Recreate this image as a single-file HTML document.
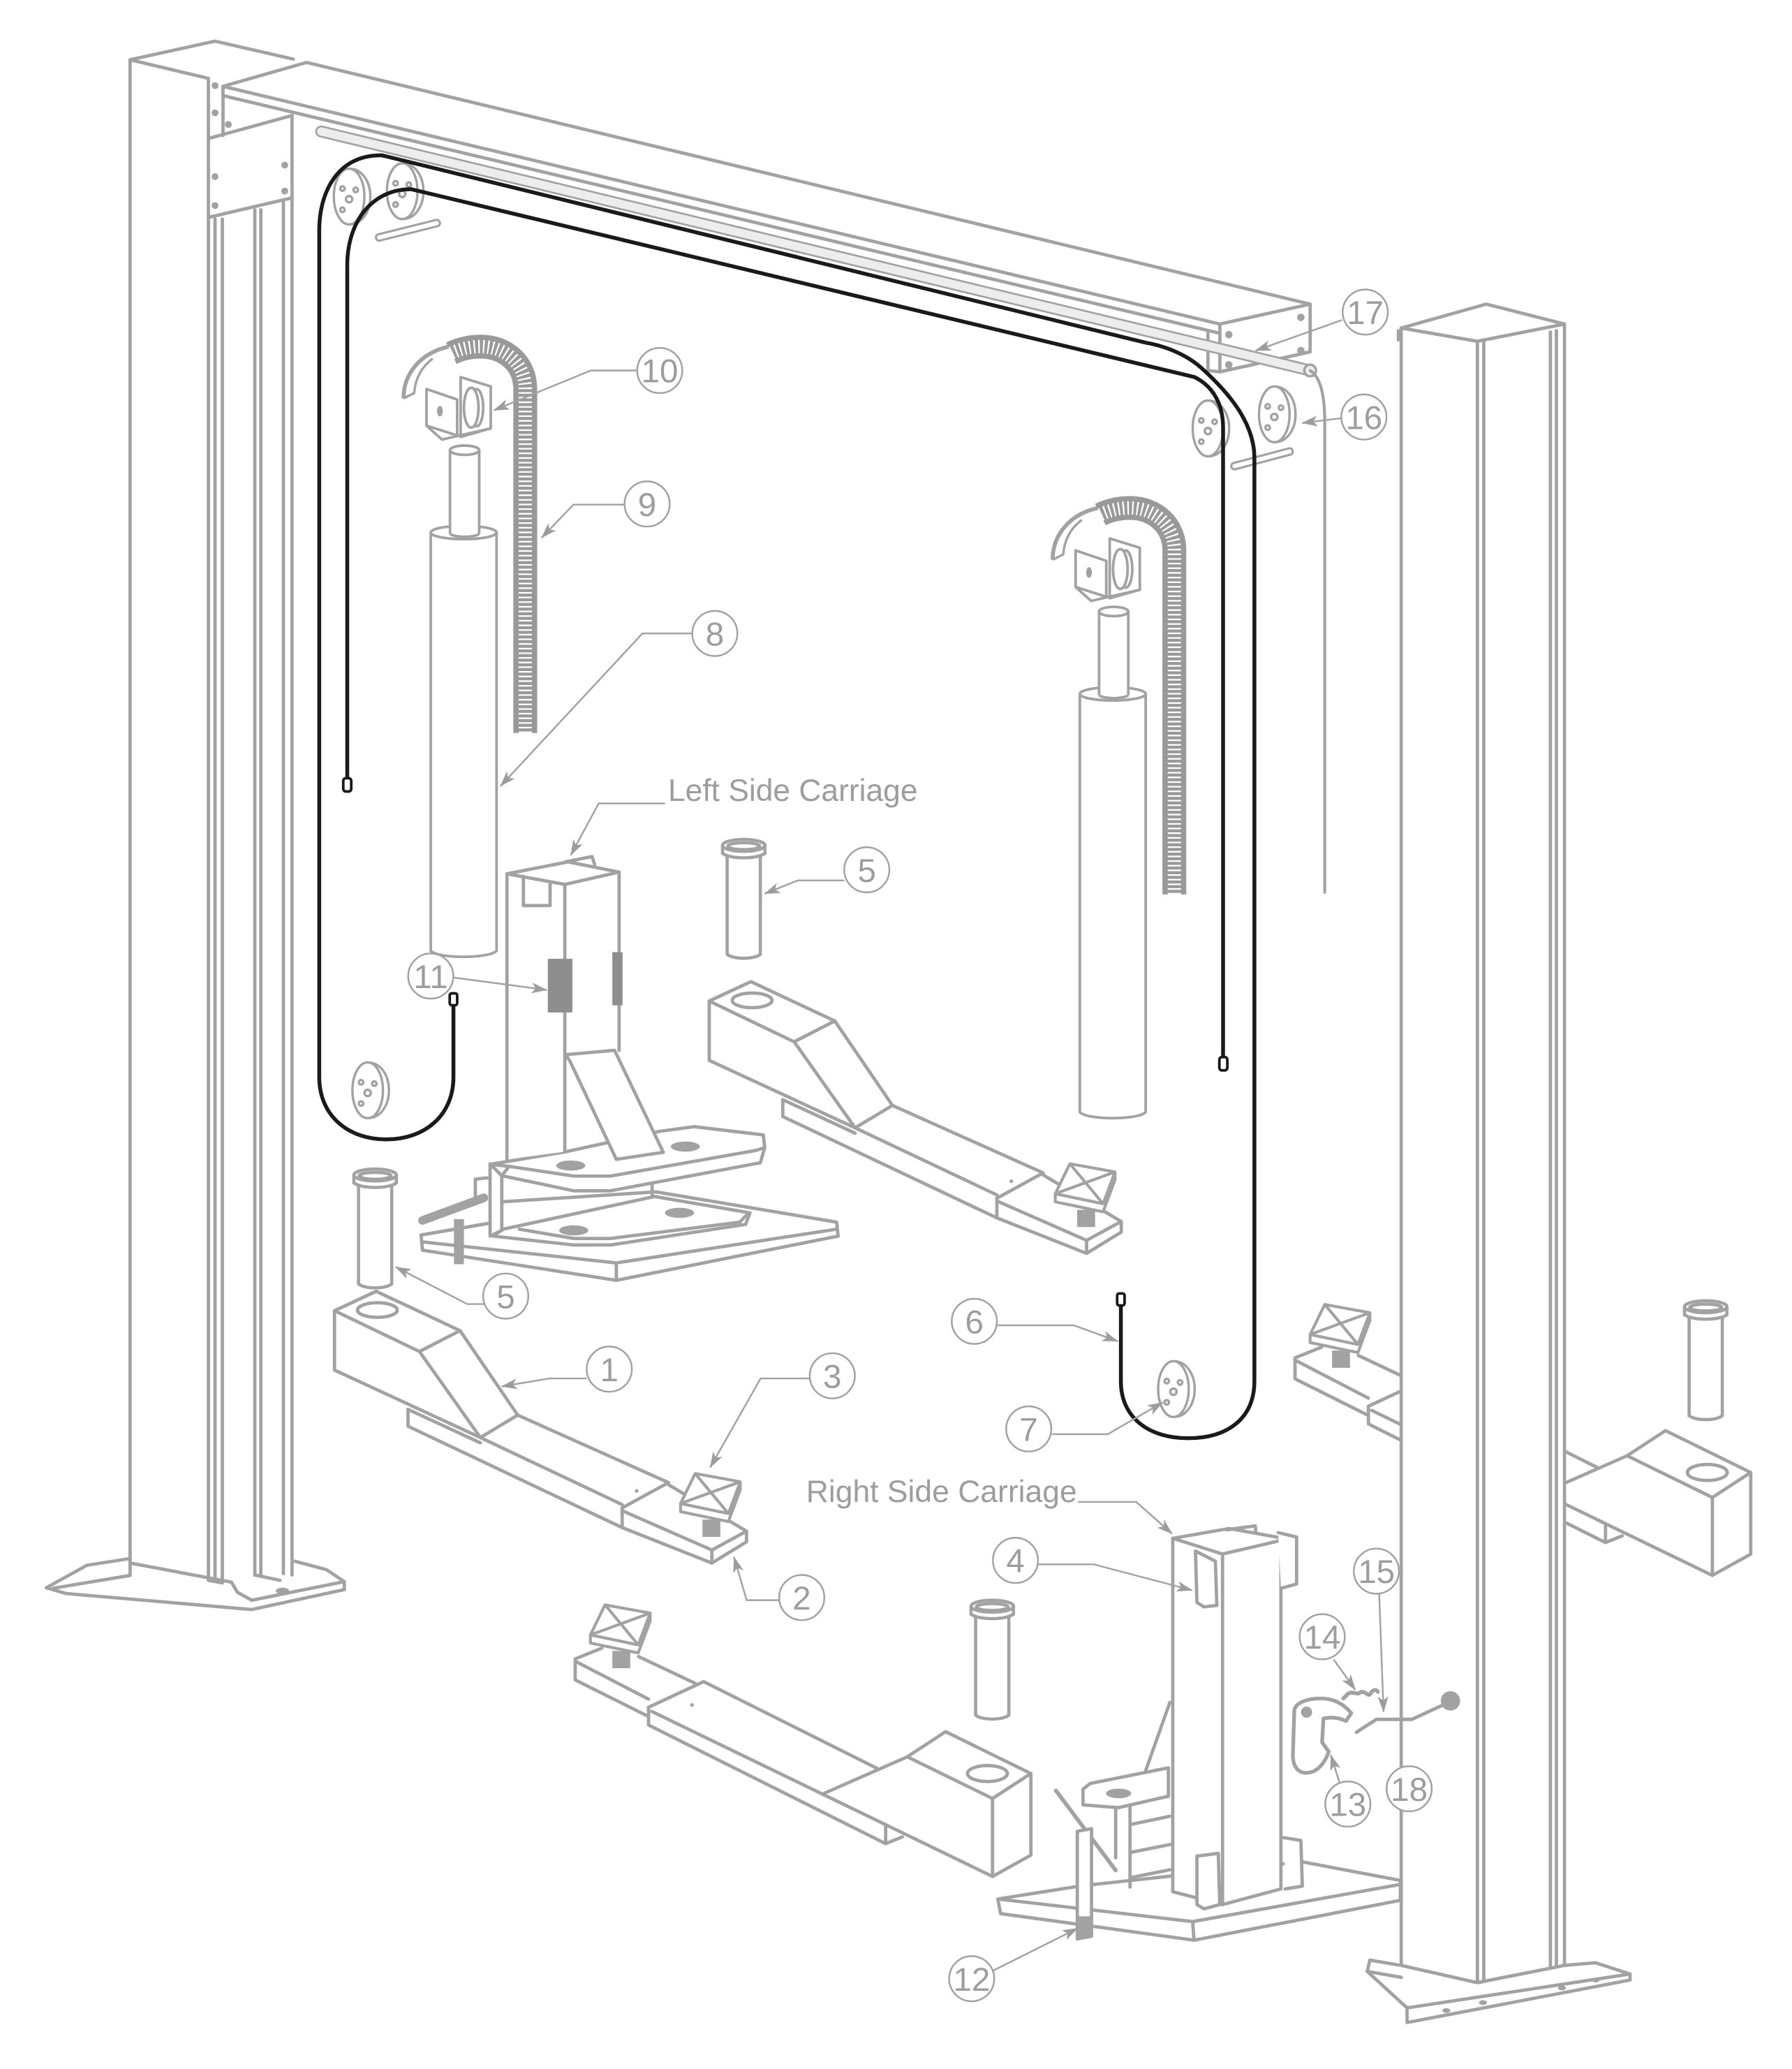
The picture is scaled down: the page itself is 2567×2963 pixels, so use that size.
<!DOCTYPE html>
<html><head><meta charset="utf-8">
<style>
html,body{margin:0;padding:0;background:#fff;width:2567px;height:2963px;overflow:hidden}
svg{display:block}
.lt{font-family:"Liberation Sans",Arial,sans-serif;fill:#9d9d9d;font-size:25px;text-anchor:middle}
.ct{font-family:"Liberation Sans",Arial,sans-serif;fill:#9d9d9d;font-size:23.4px}
</style></head><body>
<svg xmlns="http://www.w3.org/2000/svg" width="2567" height="2963" viewBox="0 0 1350 1558" preserveAspectRatio="none">
<defs>
<marker id="ar" viewBox="0 0 12 8" refX="11.5" refY="4" markerWidth="12" markerHeight="8" orient="auto" markerUnits="userSpaceOnUse"><path d="M0,0 L12,4 L0,8 L3,4 z" fill="#9d9d9d"/></marker>

<g id="pul" fill="none" stroke="#a2a2a2" stroke-width="1.8">
 <path d="M0,-21 C10,-21 16,-11 16,0 C16,11 10,21 0,21"/>
 <ellipse rx="11.5" ry="21" fill="#fff"/>
 <circle cx="0" cy="2" r="2.4"/>
 <circle cx="-5" cy="-6" r="1.7"/>
 <circle cx="5" cy="-5" r="1.7"/>
 <circle cx="-5" cy="10" r="1.7"/>
</g>

<g id="pin" fill="none" stroke="#a2a2a2" stroke-width="2.4">
 <path fill="#fff" d="M-12.5,8 V82 C-8,86 8,86 12.5,82 V8 Z"/>
 <path fill="#fff" d="M-16,0 V6 C-10,10.5 10,10.5 16,6 V0"/>
 <ellipse rx="16" ry="4.5" fill="#fff"/>
 <ellipse cy="0.6" rx="12" ry="2.6"/>
</g>

<g id="pad" fill="none" stroke="#a2a2a2" stroke-width="2.2" stroke-linejoin="round">
 <rect x="-6.5" y="20" width="13.5" height="13" fill="#a2a2a2" stroke="none"/>
 <path fill="#fff" d="M-23,7.9 L13,15.4 L22,-8.5 L22,-2.5 L13,21.5 L-23,14 Z"/>
 <path fill="#fff" d="M-12,-14.7 L22,-8.5 L13,15.4 L-23,7.9 Z"/>
 <path d="M-12,-14.7 L13,15.4 M22,-8.5 L-23,7.9"/>
</g>

<g id="cyl" fill="none" stroke="#a2a2a2" stroke-width="2" stroke-linejoin="round">
 <path fill="#fff" d="M324.5,401 V716 C330,722 368,722 374.1,716 V401"/>
 <ellipse cx="349.3" cy="401" rx="24.8" ry="5" fill="#fff"/>
 <path fill="#fff" stroke="none" d="M339,403 V339 H361 V403 Z"/>
 <path d="M339,402 V339 M361,339 V402"/>
 <ellipse cx="350" cy="339" rx="11" ry="3.5" fill="#fff"/>
 <path d="M339,402 C343,405 357,405 361,402"/>
 <path d="M395.7,552 V293 C395.7,274 381,261 362,261 C354,261 346,263 340,266" stroke="#999" stroke-width="18" stroke-linecap="butt"/>
 <path d="M395.7,552 V293 C395.7,274 381,261 362,261 C354,261 346,263 340,266" stroke="#fff" stroke-width="10" stroke-dasharray="1.2 2.3" stroke-linecap="butt"/>
 <path stroke-width="3" d="M304,300 C304,282 316,266 338,261"/>
 <path stroke-width="1.8" d="M304,300 L312,296 C313,284 318,276 326,270"/>
 <path fill="#fff" d="M347,284 L369.7,291 V322.6 L347,329 Z"/>
 <ellipse cx="359" cy="307" rx="5" ry="14"/>
 <ellipse cx="355" cy="307" rx="5.5" ry="15" fill="#fff"/>
 <path fill="#fff" d="M321.3,293 L344.4,300.8 V327.9 L321.3,320.5 Z"/>
 <ellipse cx="331.4" cy="309.6" rx="2.2" ry="4" fill="#a2a2a2" stroke="none"/>
 <path d="M321.3,320.5 L333,331 L369.7,322.6"/>
</g>

<g id="arm1" fill="none" stroke="#a2a2a2" stroke-width="2.5" stroke-linejoin="round" stroke-linecap="round">
 <path fill="#fff" d="M252,987 L283.4,972.4 L346.6,1002 L316,1017.7 Z"/>
 <ellipse cx="284.3" cy="986.5" rx="15" ry="5.5"/>
 <path d="M252,987 V1031.7 L361.9,1082.5 L390,1065.6 L346.6,1002 M316,1017.7 L361.9,1082.5"/>
 <path d="M390,1065.6 L503.6,1116.4 L468.7,1135.5"/>
 <path d="M361.9,1082.5 L468.7,1133"/>
 <path d="M307.4,1061.3 V1074 L468.7,1150.3 V1135.5"/>
 <path d="M307.4,1061.3 L361.9,1086.5"/>
 <path d="M468.7,1137.6 L536.3,1167.2 V1177 L468.7,1150.3"/>
 <path d="M536.3,1177 L562.4,1161 V1153 L536.3,1167.2"/>
 <path d="M503.6,1118 L562.4,1153"/>
 <circle cx="479.6" cy="1122.7" r="1.4" fill="#a2a2a2" stroke="none"/>
</g>

<g id="arm2" fill="none" stroke="#a2a2a2" stroke-width="2.5" stroke-linejoin="round" stroke-linecap="round">
 <path d="M433.3,1249.2 L453.4,1241.1"/>
 <path d="M433.3,1249.2 V1265 L488.6,1292.6"/>
 <path d="M434.5,1251.5 L488.6,1279.5"/>
 <path d="M481,1247.4 L523.8,1267.6"/>
 <path d="M488.6,1285.6 V1299 L667.2,1388.3 V1374.4"/>
 <path d="M667.2,1388.3 L679.8,1383.2"/>
 <path d="M488.6,1285.6 L530.1,1266.3 L660.9,1331.7"/>
 <path d="M491.1,1288.8 L747.7,1413"/>
 <path d="M620.7,1350.5 L683.5,1322.9"/>
 <path fill="#fff" d="M683.5,1322.9 L712.4,1304 L776.6,1335.5 L747.7,1354.3 Z"/>
 <ellipse cx="743.9" cy="1335.5" rx="15" ry="6"/>
 <path d="M747.7,1354.3 V1413 L776.6,1397 V1335.5"/>
 <circle cx="521.3" cy="1283.9" r="1.4" fill="#a2a2a2" stroke="none"/>
</g>
</defs>

<rect width="1350" height="1558" fill="#fff"/>

<!-- right arm behind post -->
<use href="#arm2" transform="translate(542.3,-226.7)"/>
<use href="#pad" transform="translate(1010,997)"/>
<use href="#pin" transform="translate(1285,984)"/>

<g fill="none" stroke="#a2a2a2" stroke-width="2.5" stroke-linejoin="round" stroke-linecap="round">
<!-- RIGHT POST -->
<path fill="#fff" d="M1055.6,247 L1119.7,229 L1178.6,244 V1480 L1113,1493 L1055.6,1480 Z"/>
<path d="M1055.6,247 L1113,257 L1178.6,244 M1113,257 V1493 M1117.8,257 V1492"/>
<path d="M1168,250 V1482 M1172.5,249 V1481"/>
<path d="M1053.5,249 V256"/>
<!-- right post base -->
<path fill="#fff" d="M1032,1476 L1030,1484.5 L1060,1512 V1523 L1228,1491 V1486.5 L1202,1478 L1178.6,1480 L1113,1493 L1055.6,1480 Z"/>
<path d="M1060,1512 L1228,1486.5 M1030,1484.5 L1055.6,1489"/>
<g fill="#a2a2a2" stroke="none">
 <ellipse cx="1089.6" cy="1514" rx="3" ry="1.8"/><ellipse cx="1117.2" cy="1508" rx="3" ry="1.8"/>
 <ellipse cx="1176.7" cy="1497" rx="3" ry="1.8"/><ellipse cx="1202.2" cy="1491" rx="3" ry="1.8"/>
</g>

<!-- LEFT POST -->
<path d="M98,45 L162,31 L221,44.5 M98,45 L157,59 M98,45 V1186 M157,59 V1190"/>
<path d="M162,165 V1188 M167.5,165 V1189 M192,158 V1186 M196.5,158 V1187 M213.5,152 V1185 M220,87 V1186"/>
<path d="M192,1186 L211,1190 M157,1190 L167.5,1192"/>
<path d="M158,104 L220,87 M158,163.5 L220,149"/>
<g fill="#a2a2a2" stroke="none">
 <circle cx="162" cy="64.5" r="2.6"/><circle cx="162" cy="85" r="2.6"/><circle cx="172" cy="93.7" r="2.6"/>
 <circle cx="162" cy="133" r="2.6"/><circle cx="162" cy="154.8" r="2.6"/>
 <circle cx="214.5" cy="124.3" r="2.6"/><circle cx="214.5" cy="143.9" r="2.6"/>
</g>
<!-- left post base -->
<path d="M34.9,1195.6 L65.4,1178.7 L98.1,1173.6"/>
<path d="M34.9,1195.6 L50,1200 L189.7,1212 L259.4,1197 V1191 L246,1182 L222.4,1175.7"/>
<path d="M40,1196 L98.1,1186.3 M98.1,1177 L174.4,1191.4 L178.8,1199 L189.7,1205 L259.4,1191"/>
<ellipse cx="212.8" cy="1198" rx="5" ry="2.5" fill="#a2a2a2" stroke="none"/>

<!-- TOP BEAM -->
<path d="M168,65 L231,47 L987,229 V265 L919,280 V244 L987,229"/>
<path d="M168,65 L919,244 M168,72 L919,251 M168,65 V102"/>
<path d="M910,251 V279 L919,280"/>
<g fill="#a2a2a2" stroke="none">
 <circle cx="925.7" cy="252" r="2.8"/><circle cx="925.7" cy="274.7" r="2.8"/>
 <circle cx="980" cy="239" r="2.8"/><circle cx="980" cy="264" r="2.8"/>
</g>
<!-- rod 17 -->
<path d="M242,99 L987,279" stroke-width="9"/>
<path d="M242,99 L987,279" stroke="#ededed" stroke-width="6.2"/>
<circle cx="987" cy="279" r="4.4" fill="#ededed" stroke-width="1.8"/>
<!-- gray line from rod end -->
<path d="M987,279 C995,284 998,298 998,318 V672" stroke-width="2.2"/>

<!-- small pins near pulleys -->
<path d="M285.6,178.8 L329,168 M930,351 L971.5,340" stroke-width="6.5"/>
<path d="M285.6,178.8 L329,168 M930,351 L971.5,340" stroke="#fff" stroke-width="3.2"/>
</g>

<!-- pulleys -->
<use href="#pul" transform="translate(263,148)"/>
<use href="#pul" transform="translate(303,144)"/>
<use href="#pul" transform="translate(910,322.6)"/>
<use href="#pul" transform="translate(960,312)"/>
<use href="#pul" transform="translate(277,821)"/>
<use href="#pul" transform="translate(884,1046)"/>

<!-- cylinders -->
<use href="#cyl"/>
<use href="#cyl" transform="translate(489,121.5)"/>

<!-- arms -->
<use href="#arm1"/>
<use href="#pad" transform="translate(535.7,1124.3)"/>
<use href="#arm1" transform="translate(282.3,-233.2)"/>
<use href="#pad" transform="translate(818,891)"/>
<use href="#arm2"/>
<use href="#pad" transform="translate(467.8,1223.2)"/>

<!-- pins -->
<use href="#pin" transform="translate(560.3,636.6)"/>
<use href="#pin" transform="translate(282.6,884.8)"/>
<use href="#pin" transform="translate(747.5,1209.5)"/>

<g fill="none" stroke="#a2a2a2" stroke-width="2.5" stroke-linejoin="round" stroke-linecap="round">
<!-- LEFT CARRIAGE -->
<!-- bottom big plate -->
<path fill="#fff" d="M317.2,930 L318.3,941.4 L464.3,964.1 L631.4,930.8 L630.3,920.3 L494.2,897.5 L378,905 L369.2,921 Z"/>
<path d="M318.3,935.2 L464.3,951 L630.3,925.6 M464.3,951 V964.1"/>
<!-- lower flange -->
<path fill="#fff" d="M371.4,930.8 L432.2,937.5 L459.9,937.5 L561.7,922 L565,913.3 L493.1,901 L379.1,925.6 Z"/>
<path d="M391.3,925.6 L432.2,932.6 L459.9,932.6 L557.3,920.3 L564,913.3"/>
<ellipse cx="432.2" cy="926.5" rx="11" ry="3.8" fill="#a2a2a2" stroke="none"/>
<ellipse cx="511.9" cy="913.3" rx="11" ry="3.8" fill="#a2a2a2" stroke="none"/>
<path d="M491.3,890.5 V901"/>
<!-- web -->
<path fill="#fff" d="M369.2,876.5 V930.8 L378,926.5 V885.3 Z"/>
<!-- upper plate -->
<path fill="#fff" d="M369.2,876.8 L425.6,867.4 L496.4,852 L523,848.4 L575,854.6 L576.1,864.2 L572.8,875.6 L459.9,896.7 L432.2,896.7 L378,885.3 L383.6,878.3 Z"/>
<path d="M383.6,878.3 L432.2,885.6 L459.9,885.6 L569.5,866.3 L576.1,864.2"/>
<ellipse cx="430" cy="877.7" rx="11" ry="3.8" fill="#a2a2a2" stroke="none"/>
<ellipse cx="516.3" cy="863.4" rx="11" ry="3.8" fill="#a2a2a2" stroke="none"/>
<!-- column -->
<path fill="#fff" stroke="none" d="M381.9,658 L428,648 L466.4,656.7 V791 L426.1,794 L424.5,867.4 L382.5,873 Z"/>
<path d="M381.9,658 V873 M425.5,666 V867.4 M466.4,656.7 V791"/>
<path d="M381.9,658 L425.5,666 L466.4,656.7 M381.9,658 L428,649 L466.4,656.7"/>
<path d="M394.3,660 V681.9 H414.4 V664"/>
<path d="M426,649 L446,645 L448,651"/>
<rect x="412.7" y="722" width="18.5" height="40.4" fill="#8e8e8e" stroke="none"/>
<rect x="461.3" y="717" width="7.7" height="40" fill="#8e8e8e" stroke="none"/>
<!-- gusset -->
<path fill="#fff" d="M426.1,794.2 L463,790.9 L499.7,867.7 L464.3,873 L429.5,799.3 Z"/>
<!-- left lever -->
<path d="M318.3,919 L364.5,902" stroke-width="6.5"/>
<rect x="342" y="918" width="7.5" height="34" fill="#a2a2a2" stroke="none"/>
<path d="M358.1,887.9 V902.8 M358.1,887.9 L367,887"/>
<path d="M317.2,930 L369.2,921"/>

<!-- RIGHT CARRIAGE -->
<path fill="#fff" d="M751.7,1430 L815,1420 L981,1402 L1055,1416 V1431 L899.5,1461 L753.8,1441 Z"/>
<path d="M751.7,1430 L898.5,1447 L1055,1419 M898.5,1447 L899.5,1461"/>
<!-- mount -->
<path fill="#fff" d="M815.9,1347.3 L821.2,1343 L880.2,1331.2 V1352.6 L842.7,1361.2 L815.9,1359.1 Z"/>
<path d="M840.5,1361.2 V1399 M851.3,1361.2 V1421 M851.3,1374 L881.3,1367.7 M851.3,1395 L881.3,1389 M851.3,1414 L881.3,1408"/>
<ellipse cx="842.7" cy="1350.5" rx="9.5" ry="3.6" fill="#a2a2a2" stroke="none"/>
<path d="M881.3,1282 L863.1,1333.3"/>
<!-- column -->
<path fill="#fff" d="M883.5,1158.4 L926,1151 L965,1158 V1422.4 L921,1434.2 L883.5,1424.5 Z"/>
<path d="M883.5,1158.4 L921,1170.2 L965,1160 M921,1170.2 V1434.2"/>
<path d="M924,1152 L945.7,1149 L946,1154"/>
<path fill="#fff" d="M962.9,1154.1 L976.8,1157.4 V1192.8 L965,1196"/>
<path fill="#fff" d="M900.6,1168 L915.6,1175.6 L916.7,1208.9 L907,1210 L901.7,1206.7 Z"/>
<path fill="#fff" d="M901.7,1397.7 L917.8,1395.6 L918.9,1434.2 L907,1437.4 L901.7,1434.2 Z"/>
<path fill="#fff" d="M967.2,1383.8 L980,1385.9 L981.1,1420.3 L968.2,1422.4"/>
<!-- lever 12 -->
<path d="M795.5,1348.4 L840.5,1408.4" stroke-width="3"/>
<path fill="#fff" d="M811.6,1379 L822.3,1377 V1458 L811.6,1460 Z"/>
<rect x="811.6" y="1443" width="10.7" height="16" fill="#a2a2a2" stroke="none"/>

<!-- handle 13, part 14, rod 15 -->
<path fill="#fff" stroke-width="2.8" d="M975,1289 C975,1282 985,1279 995,1279 C1005,1279 1012,1283 1018,1290 L1014,1296 C1008,1293 1002,1293 997,1294 L996,1312 L1001,1319 C998,1328 992,1335 984,1335 C977,1335 974,1329 974,1322 Z"/>
<circle cx="984.3" cy="1289.3" r="4.2" fill="#a2a2a2" stroke="none"/>
<path d="M1012,1279 L1015,1276 C1018,1273 1021,1276 1024,1275 C1027,1272 1030,1277 1032,1276 C1034,1272 1037,1272 1038,1274" stroke-width="3"/>
<path d="M1021.9,1304.4 L1036.9,1294.7 H1063.7 L1091.6,1281.8" stroke-width="2.6"/>
<circle cx="1092.7" cy="1280.8" r="7.3" fill="#a2a2a2" stroke="none"/>
</g>

<!-- CABLES -->
<g fill="none" stroke="#1a1a1a" stroke-width="2.9" stroke-linejoin="round" stroke-linecap="round">
<path d="M341.6,757 V811 C341.6,840 320,858 291,858 C262,858 240.5,840 240.5,811 V174 C240.5,140 258,116 288,117 L863,258 C880,261 895,268 905,277 C925,295 945,318 945,345 V1040 C945,1068 925,1083 895,1083 C866,1083 844.4,1068 844.4,1040 V982"/>
<path d="M261.6,591 V200 C261.6,165 282,142 310,142.5 L900,284 C912,290 921.4,302 921.4,322 V801"/>
</g>
<g fill="#fff" stroke="#1a1a1a" stroke-width="2">
<rect x="258.6" y="586" width="6" height="10" rx="2"/>
<rect x="338.8" y="748" width="5.6" height="9" rx="1.5"/>
<rect x="918.6" y="796" width="6" height="10" rx="2"/>
<rect x="841.6" y="974" width="5.6" height="9" rx="1.5"/>
</g>

<!-- LABELS -->
<g fill="none" stroke="#a2a2a2" stroke-width="1.3" marker-end="url(#ar)">
<path d="M1011,241 L946,264"/>
<path d="M1010,315 L981,318.5"/>
<path d="M480,279 H445 L372,309"/>
<path d="M470.5,380 H432 L408,405"/>
<path d="M521.5,477 H484 L377,592"/>
<path d="M501,605 H451 L430,644"/>
<path d="M636,663 H601 L576,673"/>
<path d="M341,736 L412,745.5"/>
<path d="M364.5,982 H352 L298,954"/>
<path d="M442,1038 H414 L378,1044"/>
<path d="M610,1038 H573 L535,1105"/>
<path d="M587,1205 H562.5 L553,1172.5"/>
<path d="M812,1131 H856 L883,1155"/>
<path d="M781.5,1178 H824 L898,1197.5"/>
<path d="M751,998 H809 L842,1010"/>
<path d="M792.5,1080 H834.5 L876,1056"/>
<path d="M748,1484 L812,1452"/>
<path d="M1009,1342 L1002.6,1321.5"/>
<path d="M1004.7,1249.6 L1021,1272.5"/>
<path d="M1039,1200.3 L1042.3,1289"/>
</g>
<g fill="#fff" stroke="#a2a2a2" stroke-width="1.3">
<circle cx="459" cy="1031" r="17"/>
<circle cx="604" cy="1203" r="17"/>
<circle cx="627" cy="1036" r="17"/>
<circle cx="765" cy="1175" r="17"/>
<circle cx="653" cy="655" r="17"/>
<circle cx="381" cy="976" r="17"/>
<circle cx="734" cy="995" r="17"/>
<circle cx="775" cy="1076" r="17"/>
<circle cx="538.5" cy="477" r="17"/>
<circle cx="487.5" cy="379.5" r="17"/>
<circle cx="497" cy="279" r="17"/>
<circle cx="324.5" cy="735" r="17"/>
<circle cx="732" cy="1490" r="17"/>
<circle cx="1015.4" cy="1358.5" r="17"/>
<circle cx="996.1" cy="1232.5" r="17"/>
<circle cx="1036.9" cy="1183.1" r="17"/>
<circle cx="1027.5" cy="314" r="17"/>
<circle cx="1028.5" cy="235" r="17"/>
<circle cx="1061.6" cy="1347" r="17"/>
</g>
<g class="lt">
<text x="459" y="1040">1</text>
<text x="604" y="1212">2</text>
<text x="627" y="1045">3</text>
<text x="765" y="1184">4</text>
<text x="653" y="664">5</text>
<text x="381" y="985">5</text>
<text x="734" y="1004">6</text>
<text x="775" y="1085">7</text>
<text x="538.5" y="486">8</text>
<text x="487.5" y="388.5">9</text>
<text x="497" y="288">10</text>
<text x="324.5" y="744">11</text>
<text x="732" y="1499">12</text>
<text x="1015.4" y="1367.5">13</text>
<text x="996.1" y="1241.5">14</text>
<text x="1036.9" y="1192.1">15</text>
<text x="1027.5" y="323">16</text>
<text x="1028.5" y="244">17</text>
<text x="1061.6" y="1356">18</text>
</g>
<text class="ct" x="503.3" y="603" textLength="188" lengthAdjust="spacingAndGlyphs">Left Side Carriage</text>
<text class="ct" x="607.3" y="1131" textLength="204" lengthAdjust="spacingAndGlyphs">Right Side Carriage</text>
</svg>
</body></html>
